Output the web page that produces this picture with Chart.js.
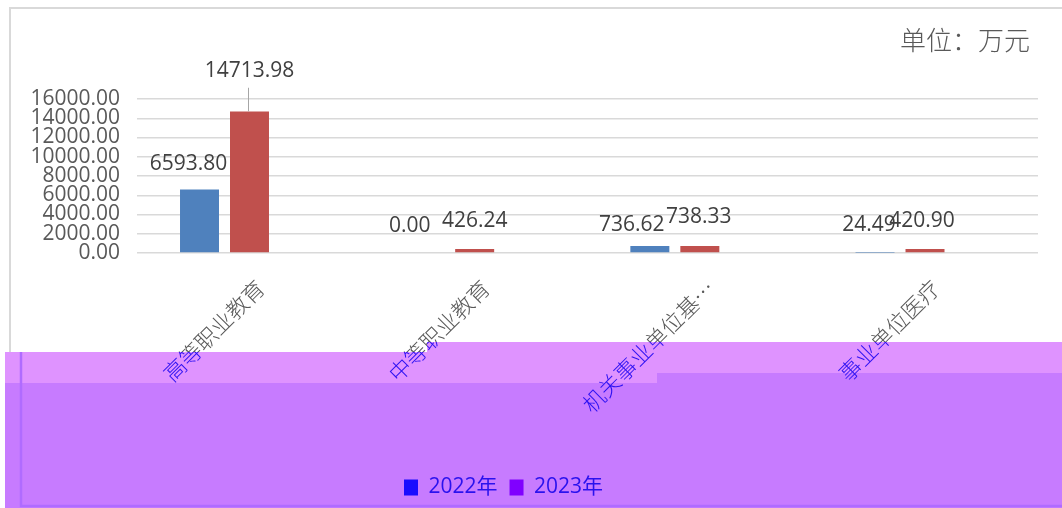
<!DOCTYPE html>
<html><head><meta charset="utf-8">
<script src="https://cdn.jsdelivr.net/npm/chart.js@4/dist/chart.umd.min.js"></script>
<style>html,body{margin:0;padding:0;background:#fff;}canvas{display:block;}</style>
</head><body>
<canvas id="c" width="1062" height="508"></canvas>
<script>
// ---- data ----
const categories = ['高等职业教育', '中等职业教育', '机关事业单位基…', '事业单位医疗'];
const seriesNames = ['2022年', '2023年'];
const values2022 = [6593.80, 0.00, 736.62, 24.49];
const values2023 = [14713.98, 426.24, 738.33, 420.90];
const yMax = 16000;
const yStep = 2000;
const unitText = '单位：万元';

// ---- style ----
const W = 1062, H = 508;
const barColors = ['#4f81bd', '#c0504d'];
const legendBoxColors = ['#1a0cff', '#8000ff'];
const legendTextColor = '#2a12ee';
const grayText = '#595959';
const blueText = '#2e12f2';
const labelDx = [[-11, -15, -18, -6], [0, 0, -1, -3]];
const labelDy = [[-25.5, -27, -21, -27.5], [-40.6, -28, -28.6, -28]];
const numFont = '"Open Sans", "Noto Sans CJK SC", sans-serif';
const cjkFont = '"Noto Sans CJK SC", sans-serif';

function overlayPath() {
  const p = new Path2D();
  p.moveTo(5, 352); p.lineTo(427, 352); p.lineTo(427, 342); p.lineTo(W, 342);
  p.lineTo(W, H); p.lineTo(5, H); p.closePath();
  return p;
}
function darkPath() {
  const p = new Path2D();
  p.moveTo(5, 383); p.lineTo(657, 383); p.lineTo(657, 373); p.lineTo(W, 373);
  p.lineTo(W, H); p.lineTo(5, H); p.closePath();
  return p;
}

const backdrop = {
  id: 'backdrop',
  beforeDraw(chart) {
    const ctx = chart.ctx;
    ctx.save();
    ctx.fillStyle = '#ffffff';
    ctx.fillRect(0, 0, W, H);
    ctx.strokeStyle = '#d9d9d9';
    ctx.lineWidth = 2;
    ctx.beginPath();
    ctx.moveTo(10, 360); ctx.lineTo(10, 8); ctx.lineTo(W, 8);
    ctx.stroke();
    ctx.fillStyle = '#df93ff';
    ctx.fill(overlayPath());
    ctx.fillStyle = '#c77bff';
    ctx.fill(darkPath());
    ctx.strokeStyle = '#b06bff';
    ctx.lineWidth = 2.5;
    ctx.beginPath();
    ctx.moveTo(21, 352); ctx.lineTo(21, 506); ctx.lineTo(W, 506);
    ctx.stroke();
    ctx.restore();
  },
  afterLayout(chart) {
    const lg = chart.legend;
    if (!lg || !lg.lineWidths) return;
    const pad = lg.options.labels.padding;
    const curX = (lg.left + pad + lg.right - lg.lineWidths[0]) / 2;
    const dx = 404 - curX;
    lg.left += dx; lg.right += dx;
  },
  afterDatasetsDraw(chart) {
    const ctx = chart.ctx;
    ctx.save();
    ctx.font = '21px ' + numFont;
    ctx.fillStyle = '#404040';
    ctx.textAlign = 'center';
    ctx.textBaseline = 'middle';
    chart.data.datasets.forEach((ds, di) => {
      const meta = chart.getDatasetMeta(di);
      meta.data.forEach((bar, i) => {
        const v = ds.data[i].y;
        const lx = bar.x + labelDx[di][i];
        const ly = bar.y + labelDy[di][i];
        ctx.fillText(v.toFixed(2), lx, ly);
        if (labelDy[di][i] < -35) {
          ctx.strokeStyle = '#a6a6a6';
          ctx.lineWidth = 1;
          ctx.beginPath();
          ctx.moveTo(Math.round(bar.x) - 0.5, ly + 17);
          ctx.lineTo(Math.round(bar.x) - 0.5, bar.y);
          ctx.stroke();
        }
      });
    });
    ctx.restore();
  },
  afterDraw(chart) {
    const ctx = chart.ctx;
    const xs = chart.scales.x;
    const drawCats = (color) => {
      ctx.font = '300 22px ' + cjkFont;
      ctx.fillStyle = color;
      ctx.textAlign = 'right';
      ctx.textBaseline = 'middle';
      categories.forEach((c, i) => {
        const x = xs.getPixelForValue(i) + 36;
        const y = chart.chartArea.bottom + 31;
        ctx.save();
        ctx.translate(x, y);
        ctx.rotate(-Math.PI / 4);
        ctx.fillText(c, 0, 0);
        ctx.restore();
      });
    };
    ctx.save();
    const outside = new Path2D();
    outside.rect(0, 0, W, H);
    outside.addPath(overlayPath());
    ctx.clip(outside, 'evenodd');
    drawCats(grayText);
    ctx.restore();
    ctx.save();
    ctx.clip(overlayPath());
    drawCats(blueText);
    ctx.restore();
    ctx.save();
    ctx.font = '300 26px ' + cjkFont;
    ctx.fillStyle = grayText;
    ctx.textAlign = 'right';
    ctx.textBaseline = 'middle';
    ctx.fillText(unitText, chart.chartArea.right - 8, 40);
    ctx.restore();
  }
};

const toPoints = (arr) => arr.map((v, i) => ({ x: i, y: v }));

new Chart(document.getElementById('c'), {
  type: 'bar',
  data: {
    datasets: [
      { label: seriesNames[0], data: toPoints(values2022), backgroundColor: barColors[0] },
      { label: seriesNames[1], data: toPoints(values2023), backgroundColor: barColors[1] }
    ]
  },
  options: {
    responsive: false,
    animation: false,
    devicePixelRatio: 1,
    categoryPercentage: 0.444,
    barPercentage: 0.78,
    layout: { padding: { top: 99, right: 24, bottom: 0, left: 0 } },
    plugins: {
      title: { display: false },
      tooltip: { enabled: false },
      legend: {
        position: 'bottom',
        labels: {
          font: { family: numFont, size: 21 },
          color: legendTextColor,
          boxWidth: 14,
          boxHeight: 16,
          padding: 12,
          generateLabels(chart) {
            return chart.data.datasets.map((ds, i) => ({
              text: ds.label,
              fillStyle: legendBoxColors[i],
              strokeStyle: legendBoxColors[i],
              lineWidth: 0,
              hidden: false,
              datasetIndex: i,
              fontColor: legendTextColor
            }));
          }
        }
      }
    },
    scales: {
      x: {
        type: 'linear',
        min: -0.3886,
        max: 3.6128,
        offset: false,
        afterBuildTicks(s) { s.ticks = categories.map((c, i) => ({ value: i })); },
        ticks: { display: false },
        grid: { display: false },
        border: { display: false },
        afterFit(s) { s.height = H - 253 - (s.chart.legend ? s.chart.legend.height : 43); }
      },
      y: {
        min: 0,
        max: yMax,
        ticks: {
          stepSize: yStep,
          autoSkip: false,
          padding: 17,
          color: grayText,
          font: { family: numFont, size: 21 },
          callback: (v) => Number(v).toFixed(2)
        },
        grid: { color: '#d9d9d9', lineWidth: 1.5, drawTicks: false },
        border: { display: false },
        afterFit(s) { s.width = 137; }
      }
    }
  },
  plugins: [backdrop]
});
</script>
</body></html>
